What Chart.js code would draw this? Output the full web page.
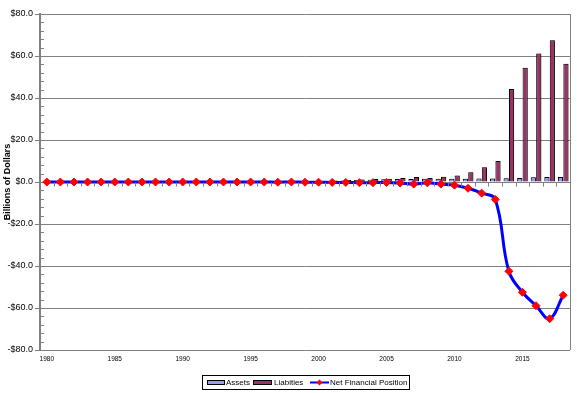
<!DOCTYPE html>
<html>
<head>
<meta charset="utf-8">
<script src="https://cdn.jsdelivr.net/npm/chart.js@4/dist/chart.umd.min.js"></script>
<style>
  html, body { margin: 0; padding: 0; background: #fff; }
  #c { display: block; }
</style>
</head>
<body>
<canvas id="c" width="577" height="393"></canvas>
<script>
// years 1980 - 2018
var years = [];
for (var y = 1980; y <= 2018; y++) years.push(String(y));

// billions of dollars
var assets = [
  0.1, 0.1, 0.1, 0.1, 0.1, 0.1, 0.1, 0.1, 0.1, 0.1,
  0.1, 0.1, 0.1, 0.1, 0.1, 0.1, 0.2, 0.2, 0.3, 0.3,
  0.4, 0.5, 0.7, 0.9, 1.1, 1.3, 1.4, 1.4, 1.5, 1.5,
  1.6, 1.6, 1.7, 1.7, 1.8, 1.9, 2.3, 2.4, 2.4
];
var liabilities = [
  0.1, 0.1, 0.1, 0.1, 0.1, 0.1, 0.1, 0.1, 0.1, 0.1,
  0.1, 0.1, 0.1, 0.1, 0.1, 0.1, 0.2, 0.3, 0.3, 0.4,
  0.5, 0.7, 0.9, 1.2, 1.4, 1.5, 1.9, 2.4, 1.9, 2.5,
  3.1, 4.6, 7.0, 10.0, 44.3, 54.4, 61.2, 67.5, 56.3
];
var netPosition = [
  0, 0, 0, 0, 0, 0, 0, 0, 0, 0,
  0, 0, 0, 0, 0, 0, 0, -0.1, 0, -0.1,
  -0.1, -0.2, -0.2, -0.3, -0.3, -0.2, -0.5, -1.0, -0.4, -1.0,
  -1.5, -3.0, -5.3, -8.3, -42.5, -52.5, -58.9, -65.1, -53.9
];
var yTicks = { min: -80, max: 80, step: 20 };

var FONT = "'Liberation Sans', Arial, sans-serif";

function money(v) {
  return (v < 0 ? '-$' : '$') + Math.abs(v).toFixed(1);
}

// zero axis with tick marks, minor y ticks, plot border, legend
var excelBits = {
  id: 'excelBits',
  afterDatasetsDraw: function(chart) {
    var ctx = chart.ctx, a = chart.chartArea;
    var ys = chart.scales.y;
    ctx.save();
    ctx.strokeStyle = '#808080';
    ctx.lineWidth = 1;
    // right border
    ctx.beginPath();
    ctx.moveTo(a.right + 0.5, a.top);
    ctx.lineTo(a.right + 0.5, a.bottom);
    ctx.stroke();
    // minor y ticks
    for (var v = yTicks.min; v <= yTicks.max; v += 4) {
      if (v % yTicks.step === 0) continue;
      var py = Math.round(ys.getPixelForValue(v)) + 0.5;
      ctx.beginPath();
      ctx.moveTo(a.left, py);
      ctx.lineTo(a.left + 4, py);
      ctx.stroke();
    }
    // category ticks on the zero line
    var y0 = Math.round(ys.getPixelForValue(0)) + 0.5;
    var w = (a.right - a.left) / years.length;
    for (var i = 0; i <= years.length; i++) {
      var px = Math.round(a.left + i * w) + 0.5;
      ctx.beginPath();
      ctx.moveTo(px, y0);
      ctx.lineTo(px, y0 + 4);
      ctx.stroke();
    }
    ctx.restore();
  },
  afterDraw: function(chart) {
    var ctx = chart.ctx;
    ctx.save();
    // legend frame
    ctx.strokeStyle = '#000';
    ctx.lineWidth = 1;
    ctx.strokeRect(202.5, 375.5, 207, 14);
    ctx.font = '8px ' + FONT;
    ctx.fillStyle = '#000';
    ctx.textBaseline = 'middle';
    var ty = 383;
    // assets swatch
    ctx.fillStyle = '#9999FF';
    ctx.fillRect(207, 380, 18, 5);
    ctx.strokeRect(207.5, 380.5, 17, 4);
    ctx.fillStyle = '#000';
    ctx.fillText('Assets', 226, ty);
    // liabilities swatch
    ctx.fillStyle = '#993366';
    ctx.fillRect(253, 380, 19, 5);
    ctx.strokeRect(253.5, 380.5, 18, 4);
    ctx.fillStyle = '#000';
    ctx.fillText('Liabities', 274, ty);
    // line swatch
    ctx.strokeStyle = '#0000FF';
    ctx.lineWidth = 2;
    ctx.beginPath();
    ctx.moveTo(310, 382.5);
    ctx.lineTo(329, 382.5);
    ctx.stroke();
    ctx.fillStyle = '#FF0000';
    ctx.beginPath();
    ctx.moveTo(319.5, 379.5);
    ctx.lineTo(322.5, 382.5);
    ctx.lineTo(319.5, 385.5);
    ctx.lineTo(316.5, 382.5);
    ctx.closePath();
    ctx.fill();
    ctx.fillStyle = '#000';
    ctx.fillText('Net Financial Position', 330, ty);
    ctx.restore();
  }
};

// grey drop shadow under the bars
var barShadow = {
  id: 'barShadow',
  beforeDatasetDraw: function(chart, args) {
    if (args.meta.type !== 'bar') return;
    var ctx = chart.ctx;
    ctx.save();
    ctx.shadowColor = 'rgba(0,0,0,0.3)';
    ctx.shadowOffsetX = 1;
    ctx.shadowOffsetY = 0;
    ctx.shadowBlur = 0;
  },
  afterDatasetDraw: function(chart, args) {
    if (args.meta.type !== 'bar') return;
    chart.ctx.restore();
  }
};

new Chart(document.getElementById('c'), {
  data: {
    labels: years,
    datasets: [
      {
        type: 'line',
        label: 'Net Financial Position',
        data: netPosition,
        order: 0,
        borderColor: '#0000FF',
        borderWidth: 3,
        tension: 0.4,
        pointStyle: 'rectRot',
        pointRadius: 4,
        pointBackgroundColor: '#FF0000',
        pointBorderColor: '#FF0000',
        pointBorderWidth: 1
      },
      {
        type: 'bar',
        label: 'Assets',
        data: assets,
        order: 1,
        backgroundColor: '#9999FF',
        borderColor: '#000000',
        borderWidth: 1,
        categoryPercentage: 0.8,
        barPercentage: 0.95
      },
      {
        type: 'bar',
        label: 'Liabities',
        data: liabilities,
        order: 1,
        backgroundColor: '#993366',
        borderColor: '#000000',
        borderWidth: 1,
        categoryPercentage: 0.8,
        barPercentage: 0.95
      }
    ]
  },
  options: {
    responsive: false,
    animation: false,
    layout: { padding: { left: 0, right: 7, top: 14, bottom: 23 } },
    plugins: {
      legend: { display: false },
      tooltip: { enabled: false }
    },
    scales: {
      x: {
        grid: { display: false, drawTicks: false },
        border: { display: false },
        ticks: {
          autoSkip: false,
          maxRotation: 0,
          padding: 5,
          color: '#000',
          font: { family: FONT, size: 6.5 },
          callback: function(v, i) {
            var yr = years[i];
            return (+yr) % 5 === 0 ? yr : '';
          }
        },
        afterFit: function(s) { s.height = 20; }
      },
      y: {
        min: yTicks.min,
        max: yTicks.max,
        grid: { color: '#808080', lineWidth: 1, tickLength: 5 },
        border: { display: true, color: '#808080', width: 2 },
        ticks: {
          stepSize: yTicks.step,
          padding: 2,
          color: '#000',
          font: { family: FONT, size: 9 },
          callback: function(v) { return money(v); }
        },
        title: {
          display: true,
          text: 'Billions of Dollars',
          color: '#000',
          font: { family: FONT, size: 9, weight: 'bold' },
          padding: { top: 2, bottom: 0 }
        },
        afterFit: function(s) { s.width = 40; }
      }
    }
  },
  plugins: [excelBits, barShadow]
});
</script>
</body>
</html>
